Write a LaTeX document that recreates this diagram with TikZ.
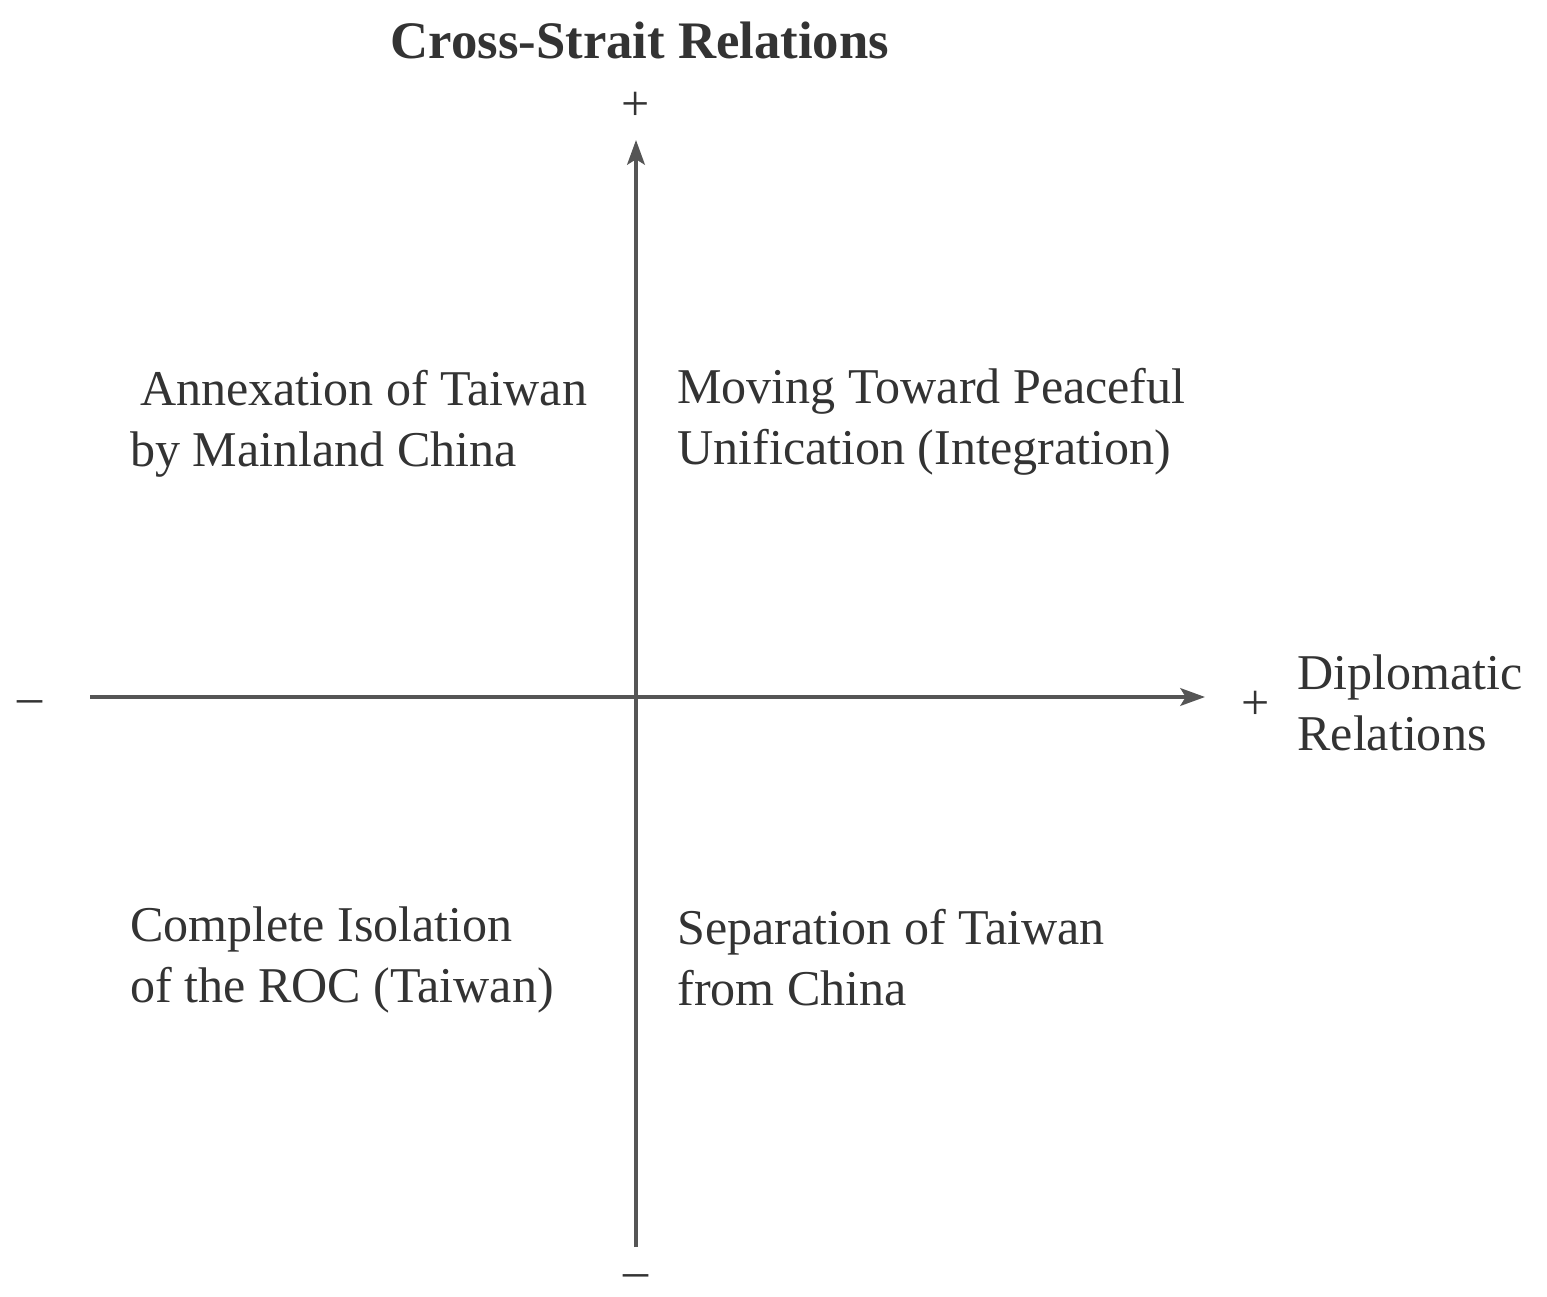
\documentclass[tikz,border=0pt]{standalone}
\usepackage{fontspec}
\setmainfont{Liberation Serif}
\usetikzlibrary{arrows.meta}
\definecolor{inkgray}{HTML}{333333}
\definecolor{axisgray}{HTML}{555555}
\begin{document}
\begin{tikzpicture}[x=0.02cm,y=-0.02cm,
  label text/.style={inner sep=0pt, text=inkgray, align=left,
    font=\fontsize{28.5}{34.7}\selectfont},
  sign/.style={inner sep=0pt, text=inkgray, font=\fontsize{28.5}{34.7}\selectfont},
  axis/.style={draw=axisgray, line width=2.2pt,
    -{Stealth[length=14pt,width=10pt,inset=3pt]}}]
  \useasboundingbox[fill=white] (0,0) rectangle (1547,1297);

  % axes
  \coordinate (O) at (636,697);
  \coordinate (ytop) at (636,140);
  \coordinate (ybot) at (636,1247);
  \coordinate (xleft) at (90,697);
  \coordinate (xright) at (1205,697);
  \draw[axis] (ybot) -- (ytop);
  \draw[axis] (xleft) -- (xright);

  % title and signs
  \node[inner sep=0pt, text=inkgray, font=\fontsize{30}{36}\selectfont\bfseries]
    (title) at (640,40) {Cross-Strait Relations};
  \node[sign] (yplus) at (636,106) {+};
  \node[sign] (yminus) at (636,1281) {--};
  \node[sign] (xminus) at (30,707) {--};
  \node[sign] (xplus) at (1256,705) {+};
  \node[label text, anchor=west] (xlabel) at (1297,703) {Diplomatic\\Relations};

  % quadrant labels
  \node[label text, anchor=west] (q2) at (130,424)
    {\hspace*{5.5pt}Annexation of Taiwan\\by Mainland China};
  \node[label text, anchor=west] (q1) at (677,422)
    {Moving Toward Peaceful\\Unification (Integration)};
  \node[label text, anchor=west] (q3) at (130,960)
    {Complete Isolation\\of the ROC (Taiwan)};
  \node[label text, anchor=west] (q4) at (677,958)
    {Separation of Taiwan\\from China};
\end{tikzpicture}
\end{document}
